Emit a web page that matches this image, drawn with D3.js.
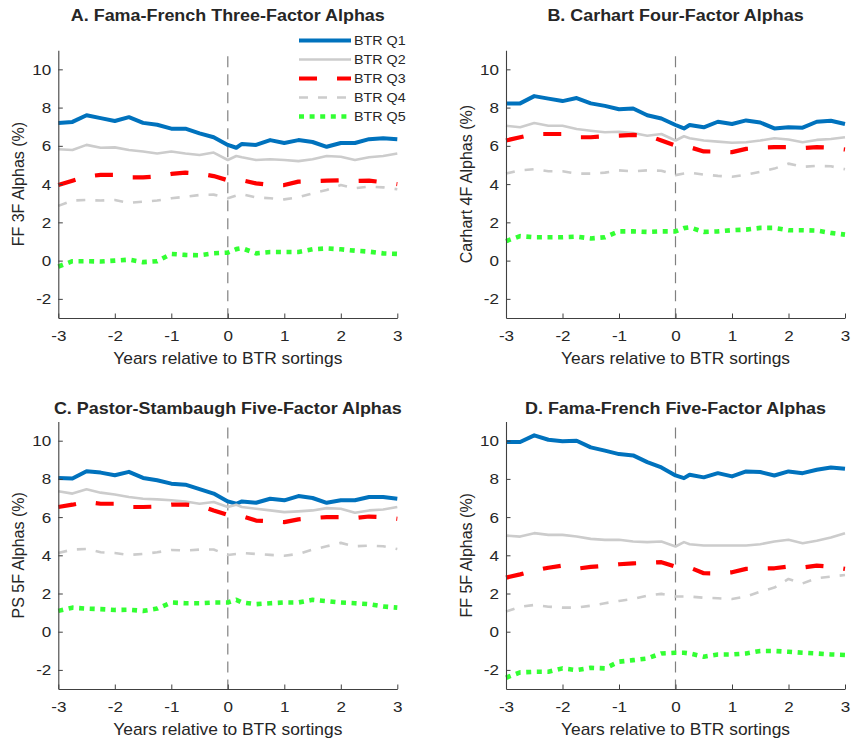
<!DOCTYPE html>
<html>
<head>
<meta charset="utf-8">
<script src="https://cdn.jsdelivr.net/npm/d3@7"></script>
<style>
  body { margin: 0; background: #fff; }
  text { font-family: "Liberation Sans", Arial, Helvetica, sans-serif; fill: #262626; }
</style>
</head>
<body>
<svg id="chart" width="851" height="743"></svg>
<script>
// years relative to the BTR sorting
const years = [-3, -2.75, -2.5, -2.25, -2, -1.75, -1.5, -1.25, -1, -0.75, -0.5, -0.25,
               0, 0.15, 0.25, 0.5, 0.75, 1, 1.25, 1.5, 1.75, 2, 2.25, 2.5, 2.75, 3];
const seriesNames = ["BTR Q1", "BTR Q2", "BTR Q3", "BTR Q4", "BTR Q5"];
const xTicks = [-3, -2, -1, 0, 1, 2, 3];
const yTicks = [-2, 0, 2, 4, 6, 8, 10];

// A. Fama-French three-factor alphas
const ff3Q1 = [7.2, 7.25, 7.6, 7.45, 7.3, 7.5, 7.2, 7.1, 6.9, 6.9, 6.65, 6.45, 6.05, 5.9, 6.1, 6.05, 6.3, 6.15, 6.3, 6.2, 5.95, 6.15, 6.15, 6.35, 6.4, 6.35];
const ff3Q2 = [5.82, 5.78, 6.05, 5.9, 5.92, 5.78, 5.7, 5.6, 5.7, 5.6, 5.52, 5.65, 5.26, 5.47, 5.4, 5.26, 5.3, 5.26, 5.2, 5.3, 5.47, 5.43, 5.26, 5.4, 5.47, 5.6];
const ff3Q3 = [3.95, 4.18, 4.4, 4.48, 4.48, 4.35, 4.35, 4.4, 4.53, 4.6, 4.55, 4.42, 4.2, 4.2, 4.2, 4.04, 3.95, 3.95, 4.13, 4.15, 4.18, 4.2, 4.16, 4.18, 4.1, 4.0];
const ff3Q4 = [2.86, 3.14, 3.17, 3.14, 3.17, 3.02, 3.08, 3.14, 3.26, 3.34, 3.43, 3.45, 3.26, 3.4, 3.47, 3.31, 3.26, 3.2, 3.31, 3.52, 3.69, 3.95, 3.78, 3.87, 3.83, 3.73];
const ff3Q5 = [-0.31, -0.03, -0.03, -0.05, 0, 0.05, -0.08, -0.03, 0.35, 0.3, 0.28, 0.38, 0.42, 0.6, 0.65, 0.38, 0.45, 0.45, 0.45, 0.59, 0.64, 0.59, 0.52, 0.47, 0.38, 0.35];

// B. Carhart four-factor alphas
const c4Q1 = [8.22, 8.22, 8.6, 8.47, 8.34, 8.5, 8.22, 8.09, 7.91, 7.95, 7.6, 7.43, 7.09, 6.91, 7.09, 6.97, 7.26, 7.14, 7.33, 7.22, 6.91, 6.97, 6.95, 7.26, 7.31, 7.14];
const c4Q2 = [7.05, 6.97, 7.19, 7.05, 7.05, 6.88, 6.79, 6.71, 6.74, 6.67, 6.53, 6.62, 6.28, 6.5, 6.4, 6.28, 6.22, 6.16, 6.19, 6.28, 6.4, 6.33, 6.19, 6.31, 6.36, 6.45];
const c4Q3 = [6.28, 6.45, 6.62, 6.62, 6.62, 6.45, 6.45, 6.5, 6.53, 6.57, 6.55, 6.28, 6.02, 5.98, 5.93, 5.71, 5.7, 5.67, 5.84, 5.9, 5.93, 5.93, 5.88, 5.93, 5.9, 5.81];
const c4Q4 = [4.55, 4.72, 4.78, 4.67, 4.67, 4.55, 4.55, 4.6, 4.72, 4.67, 4.72, 4.7, 4.47, 4.55, 4.6, 4.5, 4.43, 4.38, 4.5, 4.64, 4.81, 5.07, 4.9, 4.95, 4.93, 4.78];
const c4Q5 = [1.02, 1.28, 1.22, 1.22, 1.22, 1.25, 1.16, 1.22, 1.53, 1.53, 1.5, 1.53, 1.53, 1.7, 1.74, 1.5, 1.53, 1.59, 1.62, 1.71, 1.71, 1.59, 1.59, 1.57, 1.45, 1.36];

// C. Pastor-Stambaugh five-factor alphas
const ps5Q1 = [8.05, 8.02, 8.4, 8.33, 8.19, 8.37, 8.05, 7.93, 7.75, 7.7, 7.46, 7.23, 6.82, 6.7, 6.82, 6.75, 6.96, 6.88, 7.1, 7.0, 6.75, 6.88, 6.88, 7.05, 7.05, 6.96];
const ps5Q2 = [7.35, 7.23, 7.46, 7.28, 7.18, 7.05, 6.96, 6.93, 6.88, 6.82, 6.7, 6.79, 6.53, 6.65, 6.53, 6.44, 6.35, 6.26, 6.3, 6.35, 6.47, 6.44, 6.23, 6.35, 6.4, 6.53];
const ps5Q3 = [6.53, 6.65, 6.8, 6.7, 6.7, 6.53, 6.53, 6.55, 6.65, 6.65, 6.6, 6.35, 6.12, 6.08, 6.05, 5.82, 5.78, 5.74, 5.88, 5.95, 6.0, 6.0, 5.95, 6.03, 6.0, 5.91];
const ps5Q4 = [4.12, 4.3, 4.33, 4.16, 4.12, 4.02, 4.07, 4.16, 4.28, 4.25, 4.3, 4.3, 4.02, 4.07, 4.12, 4.07, 4.02, 3.98, 4.07, 4.3, 4.47, 4.65, 4.47, 4.51, 4.47, 4.33];
const ps5Q5 = [1.09, 1.26, 1.21, 1.18, 1.14, 1.15, 1.09, 1.21, 1.53, 1.49, 1.49, 1.53, 1.53, 1.67, 1.53, 1.44, 1.49, 1.53, 1.53, 1.67, 1.6, 1.53, 1.49, 1.44, 1.32, 1.26];

// D. Fama-French five-factor alphas
const ff5Q1 = [9.93, 9.93, 10.28, 10.05, 9.97, 10.0, 9.65, 9.48, 9.3, 9.23, 8.88, 8.6, 8.18, 8.04, 8.22, 8.08, 8.3, 8.13, 8.39, 8.36, 8.18, 8.39, 8.3, 8.48, 8.6, 8.53];
const ff5Q2 = [5.03, 4.98, 5.16, 5.07, 5.07, 4.98, 4.86, 4.81, 4.81, 4.72, 4.69, 4.72, 4.46, 4.69, 4.58, 4.51, 4.51, 4.51, 4.51, 4.58, 4.72, 4.81, 4.63, 4.76, 4.93, 5.16];
const ff5Q3 = [2.83, 3.0, 3.2, 3.35, 3.46, 3.3, 3.39, 3.45, 3.53, 3.58, 3.6, 3.64, 3.41, 3.4, 3.36, 3.06, 3.05, 3.11, 3.29, 3.3, 3.32, 3.41, 3.36, 3.46, 3.4, 3.29];
const ff5Q4 = [1.05, 1.31, 1.4, 1.31, 1.26, 1.26, 1.36, 1.49, 1.61, 1.71, 1.89, 1.98, 1.84, 1.84, 1.84, 1.78, 1.75, 1.71, 1.84, 2.1, 2.31, 2.76, 2.53, 2.8, 2.88, 2.97];
const ff5Q5 = [-2.41, -2.13, -2.1, -2.1, -1.92, -2.01, -1.89, -1.92, -1.57, -1.49, -1.4, -1.14, -1.1, -1.1, -1.14, -1.31, -1.19, -1.19, -1.14, -1.01, -1.01, -1.05, -1.1, -1.14, -1.19, -1.22];

const styles = [
  {color: "#0072bd", width: 4,   dash: null},
  {color: "#cccccc", width: 2.6, dash: null},
  {color: "#ff0000", width: 4.2, dash: "18,20"},
  {color: "#cccccc", width: 2.6, dash: "9,10"},
  {color: "#33ff33", width: 4.6, dash: "5,5.6"}
];

const panels = [
  {title: "A. Fama-French Three-Factor Alphas", ylabel: "FF 3F Alphas (%)",
   series: [ff3Q1, ff3Q2, ff3Q3, ff3Q4, ff3Q5], left: 58.3, right: 397.3, top: 50.2, bottom: 318, titleY: 20.7, legend: true},
  {title: "B. Carhart Four-Factor Alphas", ylabel: "Carhart 4F Alphas (%)",
   series: [c4Q1, c4Q2, c4Q3, c4Q4, c4Q5], left: 506, right: 845, top: 50.2, bottom: 318, titleY: 20.7},
  {title: "C. Pastor-Stambaugh Five-Factor Alphas", ylabel: "PS 5F Alphas (%)",
   series: [ps5Q1, ps5Q2, ps5Q3, ps5Q4, ps5Q5], left: 58.3, right: 397.3, top: 421.6, bottom: 689, titleY: 414},
  {title: "D. Fama-French Five-Factor Alphas", ylabel: "FF 5F Alphas (%)",
   series: [ff5Q1, ff5Q2, ff5Q3, ff5Q4, ff5Q5], left: 506, right: 845, top: 421.6, bottom: 689, titleY: 414}
];

const svg = d3.select("#chart");
const sx = 1.1; // the reference text is a little wider than tall
const tickFmt = d => String(d); // plain hyphen minus, no decimals

function stretchedText(g, x, y, str, size, weight, anchor) {
  return g.append("text")
    .attr("transform", `translate(${x},${y}) scale(${sx},1)`)
    .attr("text-anchor", anchor || "middle")
    .style("font-size", size + "px")
    .style("font-weight", weight || "normal")
    .text(str);
}

panels.forEach(p => {
  const g = svg.append("g");
  const x = d3.scaleLinear().domain([-3, 3]).range([p.left, p.right]);
  const y = d3.scaleLinear().domain([-3, 11]).range([p.bottom, p.top]);

  // zero line
  g.append("line")
    .attr("x1", x(0)).attr("x2", x(0))
    .attr("y1", y(11)).attr("y2", y(-3))
    .attr("stroke", "#808080").attr("stroke-width", 1.2)
    .attr("stroke-dasharray", "11,7").attr("stroke-dashoffset", 12);

  const line = d3.line().x((d, i) => x(years[i])).y(d => y(d));
  p.series.forEach((s, k) => {
    g.append("path")
      .datum(s)
      .attr("d", line)
      .attr("fill", "none")
      .attr("stroke", styles[k].color)
      .attr("stroke-width", styles[k].width)
      .attr("stroke-dasharray", styles[k].dash)
      .attr("stroke-linejoin", "round");
  });

  // axes, ticks pointing inward
  const xAxis = g.append("g")
    .attr("transform", `translate(0,${p.bottom})`)
    .call(d3.axisBottom(x).tickValues(xTicks).tickFormat(tickFmt)
      .tickSizeInner(-4.5).tickSizeOuter(0).tickPadding(11.5));
  const yAxis = g.append("g")
    .attr("transform", `translate(${p.left},0)`)
    .call(d3.axisLeft(y).tickValues(yTicks).tickFormat(tickFmt)
      .tickSizeInner(-4.5).tickSizeOuter(0).tickPadding(7));
  [xAxis, yAxis].forEach(a => {
    a.select(".domain").attr("stroke", "#404040").attr("stroke-width", 1.1);
    a.selectAll(".tick line").attr("stroke", "#404040").attr("stroke-width", 1);
    a.selectAll(".tick text")
      .style("font-size", "15.5px")
      .attr("fill", "#262626")
      .attr("transform", `scale(${sx},1)`);
  });
  yAxis.selectAll(".tick text").attr("x", -7 / sx);

  stretchedText(g, (p.left + p.right) / 2, p.titleY, p.title, 16.3, "bold");
  stretchedText(g, (p.left + p.right) / 2, p.bottom + 46, "Years relative to BTR sortings", 15.8);

  g.append("text")
    .attr("transform", `translate(${p.left - 34},${(p.top + p.bottom) / 2}) rotate(-90)`)
    .attr("text-anchor", "middle")
    .style("font-size", "16px")
    .text(p.ylabel);

  if (p.legend) {
    const lg = g.append("g");
    seriesNames.forEach((name, k) => {
      const ly = 40.5 + k * 19;
      lg.append("line")
        .attr("x1", 299).attr("x2", 351)
        .attr("y1", ly).attr("y2", ly)
        .attr("stroke", styles[k].color)
        .attr("stroke-width", styles[k].width)
        .attr("stroke-dasharray", styles[k].dash);
      stretchedText(lg, 354, ly + 4.7, name, 13, "normal", "start");
    });
  }
});
</script>
</body>
</html>
